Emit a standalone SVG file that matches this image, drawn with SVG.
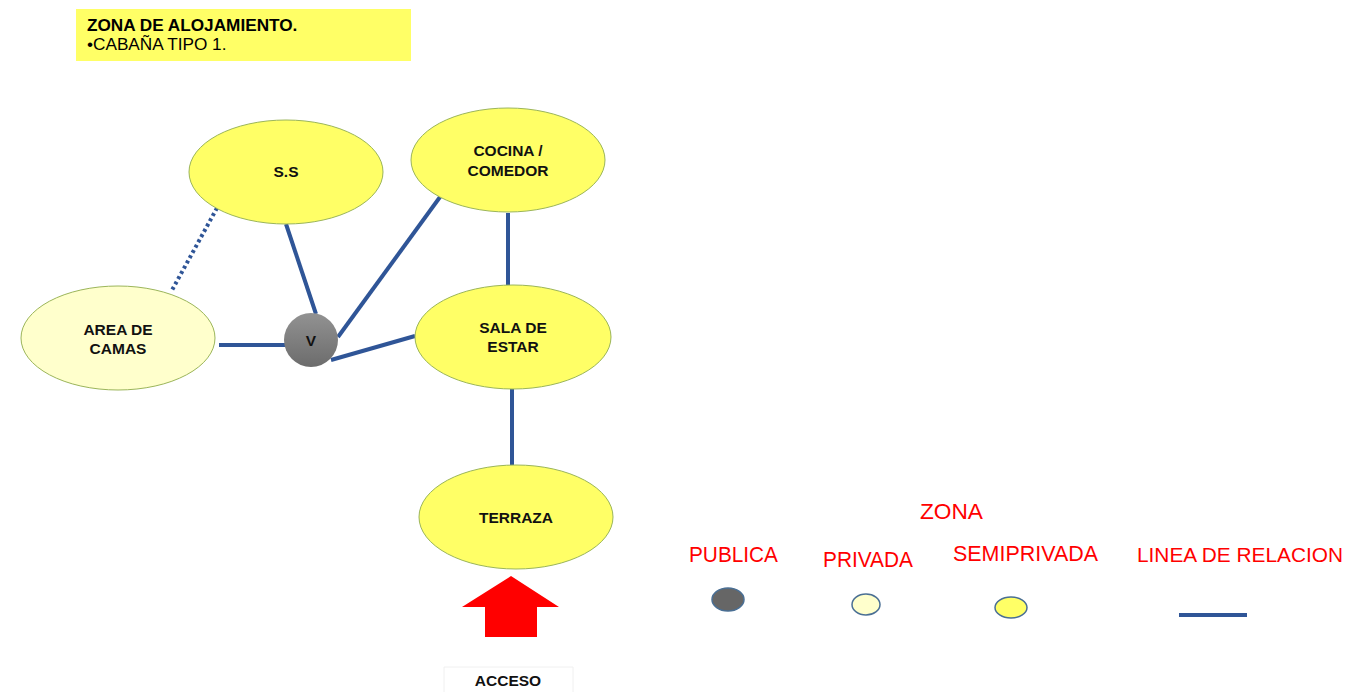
<svg xmlns="http://www.w3.org/2000/svg" width="1350" height="692" viewBox="0 0 1350 692">
<defs>
<style>
.semi{fill:#ffff66;stroke:#9bb55a;stroke-width:1}
.priv{fill:#ffffcc;stroke:#9bb55a;stroke-width:1}
.lbl{font-family:"Liberation Sans",Arial,sans-serif;font-weight:bold;font-size:15.5px;fill:#111;text-anchor:middle}
.rel{stroke:#2f5597;stroke-width:4;fill:none}
.leg{font-family:"Liberation Sans Narrow","Liberation Sans",Arial,sans-serif;font-size:22px;fill:#ff0000}
.leg.sm{font-size:20px}
</style>
<linearGradient id="gv" x1="0" y1="0" x2="0" y2="1">
<stop offset="0" stop-color="#929292"/>
<stop offset="1" stop-color="#6c6c6c"/>
</linearGradient>
</defs>
<rect width="1350" height="692" fill="#ffffff"/>
<g id="title">
<rect x="76" y="9" width="335" height="52" fill="#ffff66"/>
<text x="87" y="31" font-family="Liberation Sans,Arial,sans-serif" font-weight="bold" font-size="17.2" fill="#000">ZONA DE ALOJAMIENTO.</text>
<text x="87" y="50" font-family="Liberation Sans,Arial,sans-serif" font-size="17.2" fill="#000">•CABAÑA TIPO 1.</text>
</g>
<g id="connectors">
<line class="rel" x1="217" y1="208" x2="171" y2="292" stroke-dasharray="3 3"/>
<line class="rel" x1="286" y1="224" x2="316" y2="314"/>
<line class="rel" x1="219" y1="345" x2="286" y2="345"/>
<line class="rel" x1="338" y1="337" x2="440" y2="197"/>
<line class="rel" x1="331" y1="360" x2="415" y2="336"/>
<line class="rel" x1="508" y1="213" x2="508" y2="285"/>
<line class="rel" x1="512" y1="389" x2="512" y2="465"/>
</g>
<g id="ss">
<ellipse class="semi" cx="286" cy="172" rx="97" ry="52"/>
<text class="lbl" x="286" y="177">S.S</text>
</g>
<g id="cocina">
<ellipse class="semi" cx="508" cy="160" rx="97" ry="52"/>
<text class="lbl" x="508" y="156">COCINA /</text>
<text class="lbl" x="508" y="176">COMEDOR</text>
</g>
<g id="area-camas">
<ellipse class="priv" cx="118" cy="338" rx="97" ry="52"/>
<text class="lbl" x="118" y="335">AREA DE</text>
<text class="lbl" x="118" y="354">CAMAS</text>
</g>
<g id="v">
<circle cx="311" cy="340" r="27" fill="url(#gv)"/>
<text class="lbl" x="311" y="346">V</text>
</g>
<g id="sala">
<ellipse class="semi" cx="513" cy="337" rx="98" ry="52"/>
<text class="lbl" x="513" y="333">SALA DE</text>
<text class="lbl" x="513" y="352">ESTAR</text>
</g>
<g id="terraza">
<ellipse class="semi" cx="516" cy="517" rx="97" ry="52"/>
<text class="lbl" x="516" y="523">TERRAZA</text>
</g>
<g id="acceso">
<polygon points="511,576 559,607 537,607 537,637 485,637 485,607 462,607" fill="#ff0000"/>
<path d="M444,692 V667 H573 V692" fill="none" stroke="#f0f0f0" stroke-width="1"/>
<text class="lbl" x="508" y="686">ACCESO</text>
</g>
<g id="legend">
<text class="leg" x="920" y="519" textLength="63" lengthAdjust="spacingAndGlyphs">ZONA</text>
<text class="leg" x="689" y="562" textLength="89" lengthAdjust="spacingAndGlyphs">PUBLICA</text>
<text class="leg" x="823" y="567" textLength="90" lengthAdjust="spacingAndGlyphs">PRIVADA</text>
<text class="leg" x="953" y="561" textLength="145" lengthAdjust="spacingAndGlyphs">SEMIPRIVADA</text>
<text class="leg sm" x="1137" y="562" textLength="206" lengthAdjust="spacingAndGlyphs">LINEA DE RELACION</text>
<ellipse cx="728" cy="599.5" rx="16" ry="11.5" fill="#666666" stroke="#4a6f94" stroke-width="1.5"/>
<ellipse cx="866" cy="604.5" rx="14" ry="10.5" fill="#ffffcc" stroke="#4a6f94" stroke-width="1.5"/>
<ellipse cx="1011" cy="607.5" rx="16" ry="10.5" fill="#ffff66" stroke="#4a6f94" stroke-width="1.5"/>
<line class="rel" x1="1179" y1="615" x2="1247" y2="615"/>
</g>
</svg>
